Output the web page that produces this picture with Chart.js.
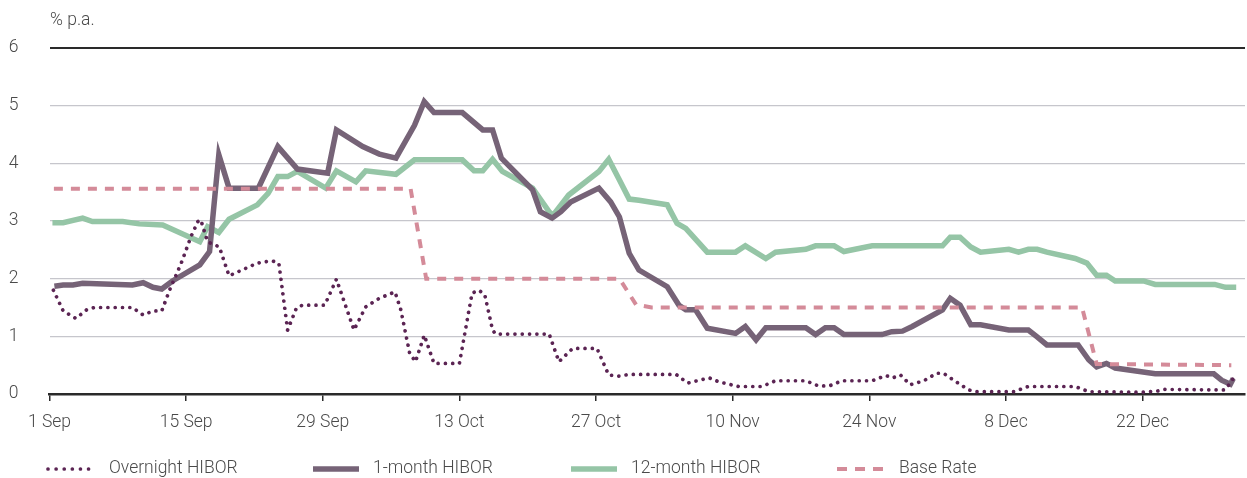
<!DOCTYPE html>
<html>
<head>
<meta charset="utf-8">
<script src="https://cdn.jsdelivr.net/npm/chart.js@4/dist/chart.umd.min.js"></script>
<style>
  html, body { margin: 0; padding: 0; background: #fff; }
  #wrap { width: 1247px; height: 478px; position: relative; }
</style>
</head>
<body>
<div id="wrap"><canvas id="hibor"></canvas></div>
<script>
// x values are days counted from 1 Sep
const tickDays = [0, 14, 28, 42, 56, 70, 84, 98, 112]
const tickLabels = ['1 Sep', '15 Sep', '29 Sep', '13 Oct', '27 Oct', '10 Nov', '24 Nov', '8 Dec', '22 Dec']

const overnightDays = [0.4, 1.4, 2.7, 3.8, 4.6, 8.5, 9.6, 10.6, 11.5, 12.3, 13.5, 14.5, 15.2, 15.5, 16.2, 17.4, 18.4, 21.3, 22.8, 23.5, 24.4, 25.3, 25.9, 28.2, 29.4, 31.2, 32.4, 33.8, 35.4, 36.0, 36.9, 37.5, 38.4, 39.4, 42.0, 43.3, 44.0, 44.6, 45.4, 45.7, 51.2, 52.2, 53.6, 56.1, 57.3, 58.4, 59.4, 64.2, 65.4, 67.6, 68.6, 70.6, 73.0, 74.4, 77.5, 78.8, 79.9, 81.2, 84.3, 85.7, 86.4, 87.2, 88.2, 89.6, 90.9, 91.6, 93.0, 94.2, 94.9, 98.8, 100.3, 105.1, 106.5, 112.0, 113.5, 114.1, 119.6, 120.4, 120.9, 121.3]
const overnightRates = [1.80, 1.44, 1.31, 1.46, 1.50, 1.50, 1.37, 1.44, 1.44, 1.80, 2.27, 2.73, 2.99, 3.02, 2.64, 2.55, 2.05, 2.27, 2.31, 2.27, 1.11, 1.49, 1.54, 1.54, 1.99, 1.11, 1.51, 1.66, 1.77, 1.46, 0.71, 0.56, 1.02, 0.53, 0.53, 1.75, 1.80, 1.72, 1.11, 1.04, 1.04, 0.56, 0.79, 0.79, 0.33, 0.31, 0.34, 0.34, 0.19, 0.28, 0.21, 0.13, 0.13, 0.23, 0.23, 0.14, 0.14, 0.23, 0.23, 0.32, 0.28, 0.33, 0.16, 0.23, 0.36, 0.36, 0.20, 0.07, 0.04, 0.04, 0.13, 0.13, 0.04, 0.03, 0.05, 0.08, 0.07, 0.07, 0.17, 0.27]

const oneMonthDays = [0.5, 1.4, 2.4, 3.4, 8.5, 9.6, 10.6, 11.5, 12.6, 15.4, 16.4, 17.35, 18.4, 21.4, 23.4, 25.4, 28.5, 29.4, 32.1, 33.8, 35.5, 37.4, 38.4, 39.4, 42.3, 44.4, 45.4, 46.3, 49.5, 50.3, 51.5, 52.4, 53.4, 56.3, 57.5, 58.4, 59.4, 60.4, 63.3, 64.5, 65.2, 66.2, 67.4, 70.3, 71.3, 72.4, 73.4, 77.5, 78.5, 79.5, 80.4, 81.4, 85.3, 86.3, 87.4, 88.4, 91.5, 92.3, 93.3, 94.4, 95.4, 98.3, 100.3, 101.2, 102.2, 105.4, 106.5, 107.3, 108.3, 109.2, 113.3, 119.3, 120.1, 121.0, 121.3]
const oneMonthRates = [1.87, 1.89, 1.89, 1.92, 1.89, 1.93, 1.85, 1.82, 1.96, 2.24, 2.47, 4.15, 3.57, 3.57, 4.29, 3.90, 3.83, 4.58, 4.29, 4.16, 4.09, 4.66, 5.07, 4.88, 4.88, 4.58, 4.58, 4.09, 3.54, 3.16, 3.05, 3.16, 3.33, 3.57, 3.33, 3.07, 2.44, 2.15, 1.86, 1.54, 1.46, 1.46, 1.14, 1.05, 1.17, 0.94, 1.15, 1.15, 1.03, 1.15, 1.15, 1.03, 1.03, 1.08, 1.09, 1.17, 1.46, 1.66, 1.54, 1.20, 1.20, 1.11, 1.11, 0.99, 0.85, 0.85, 0.59, 0.47, 0.53, 0.45, 0.35, 0.35, 0.24, 0.17, 0.27]

const twelveMonthDays = [0.3, 1.4, 3.4, 4.4, 7.5, 9.2, 11.6, 15.4, 16.2, 17.35, 18.4, 21.3, 22.4, 23.4, 24.4, 25.4, 28.3, 29.4, 31.4, 32.4, 35.5, 37.4, 42.3, 43.5, 44.4, 45.4, 46.4, 49.5, 51.2, 51.6, 53.2, 56.3, 57.3, 58.4, 59.4, 60.4, 63.3, 64.3, 65.2, 67.4, 70.3, 71.3, 73.4, 74.4, 77.5, 78.5, 80.4, 81.4, 84.3, 91.5, 92.3, 93.3, 94.4, 95.4, 98.3, 99.3, 100.3, 101.2, 102.2, 105.1, 106.3, 107.3, 108.3, 109.2, 112.1, 113.3, 119.4, 120.5, 121.6]
const twelveMonthRates = [2.97, 2.97, 3.05, 2.99, 2.99, 2.95, 2.93, 2.64, 2.90, 2.80, 3.03, 3.28, 3.48, 3.77, 3.77, 3.86, 3.57, 3.87, 3.68, 3.87, 3.81, 4.06, 4.06, 3.87, 3.87, 4.07, 3.86, 3.57, 3.16, 3.10, 3.45, 3.86, 4.07, 3.71, 3.38, 3.36, 3.28, 2.96, 2.87, 2.46, 2.46, 2.57, 2.35, 2.46, 2.51, 2.57, 2.57, 2.47, 2.57, 2.57, 2.72, 2.72, 2.55, 2.46, 2.51, 2.46, 2.51, 2.51, 2.46, 2.35, 2.27, 2.06, 2.06, 1.96, 1.96, 1.90, 1.90, 1.85, 1.85]

const baseDays = [0.45, 37.0, 38.6, 58.4, 60.1, 61.7, 105.8, 107.3, 121.1]
const baseRates = [3.56, 3.56, 2.0, 2.0, 1.55, 1.5, 1.5, 0.52, 0.5]

const textColor = '#4a4a4a'
const fontFamily = 'Roboto, "Open Sans", sans-serif'
const fontSize = 17.5

function toPoints(days, rates) {
  return days.map((d, i) => ({ x: d, y: rates[i] }))
}

// legend under the axis, drawn by hand so the spacing matches
const bottomLegend = {
  id: 'bottomLegend',
  afterDraw(chart) {
    const c = chart.ctx
    const y = 469
    const slots = [[48, 109], [313, 373], [571, 631], [837, 899]]
    c.font = '300 ' + fontSize + 'px ' + fontFamily
    chart.data.datasets.forEach((ds, i) => {
      const [sx, tx] = slots[i]
      c.save()
      c.strokeStyle = ds.borderColor
      c.lineWidth = ds.borderWidth
      c.lineCap = ds.borderCapStyle || 'butt'
      c.setLineDash(ds.legendDash || [])
      c.beginPath()
      c.moveTo(sx, y)
      c.lineTo(sx + 46, y)
      c.stroke()
      c.restore()
      c.fillStyle = textColor
      c.textBaseline = 'middle'
      c.textAlign = 'left'
      c.fillText(ds.label, tx, y)
    })
    c.fillStyle = textColor
    c.textBaseline = 'middle'
    c.fillText('% p.a.', 50, 21)
  }
}

Chart.defaults.font.family = fontFamily
Chart.defaults.font.size = fontSize
Chart.defaults.font.weight = 300
Chart.defaults.color = textColor

new Chart(document.querySelector('#hibor'), {
  type: 'line',
  data: {
    datasets: [{
      label: 'Overnight HIBOR',
      data: toPoints(overnightDays, overnightRates),
      borderColor: '#5b2453',
      borderWidth: 3.7,
      borderDash: [0.01, 7.3],
      borderCapStyle: 'round',
      legendDash: [0.01, 8.1],
      order: 0
    }, {
      label: '1-month HIBOR',
      data: toPoints(oneMonthDays, oneMonthRates),
      borderColor: '#766377',
      borderWidth: 5.5,
      order: 2
    }, {
      label: '12-month HIBOR',
      data: toPoints(twelveMonthDays, twelveMonthRates),
      borderColor: '#95c5a6',
      borderWidth: 5.5,
      order: 3
    }, {
      label: 'Base Rate',
      data: toPoints(baseDays, baseRates),
      borderColor: '#d48b99',
      borderWidth: 4,
      borderDash: [9, 8],
      legendDash: [10, 8],
      order: 1
    }]
  },
  options: {
    responsive: true,
    maintainAspectRatio: false,
    animation: false,
    devicePixelRatio: 1,
    elements: {
      point: { radius: 0 },
      line: { tension: 0, fill: false }
    },
    layout: { padding: { top: 48, right: 2, left: 0, bottom: 0 } },
    plugins: {
      legend: { display: false },
      tooltip: { enabled: false }
    },
    scales: {
      x: {
        type: 'linear',
        min: 0,
        max: 122.5,
        afterBuildTicks: axis => { axis.ticks = tickDays.map(v => ({ value: v })) },
        afterFit: s => { s.height = 84 },
        ticks: {
          autoSkip: false,
          maxRotation: 0,
          padding: 11,
          color: textColor,
          callback: v => tickLabels[tickDays.indexOf(v)]
        },
        grid: {
          drawOnChartArea: false,
          drawTicks: true,
          tickLength: 7,
          color: '#2a2a2a',
          lineWidth: 1.5
        },
        border: { display: true, color: '#2a2a2a', width: 2.5 }
      },
      y: {
        min: 0,
        max: 6,
        afterFit: s => { s.width = 49.5 },
        ticks: {
          stepSize: 1,
          padding: 31,
          color: textColor
        },
        grid: {
          drawTicks: false,
          color: c => c.tick.value === 6 ? '#2a2a2a' : (c.tick.value === 0 ? 'rgba(0,0,0,0)' : '#c6c6cc'),
          lineWidth: c => c.tick.value === 6 ? 2 : 1.3
        },
        border: { display: false }
      }
    }
  },
  plugins: [bottomLegend]
})
</script>
</body>
</html>
